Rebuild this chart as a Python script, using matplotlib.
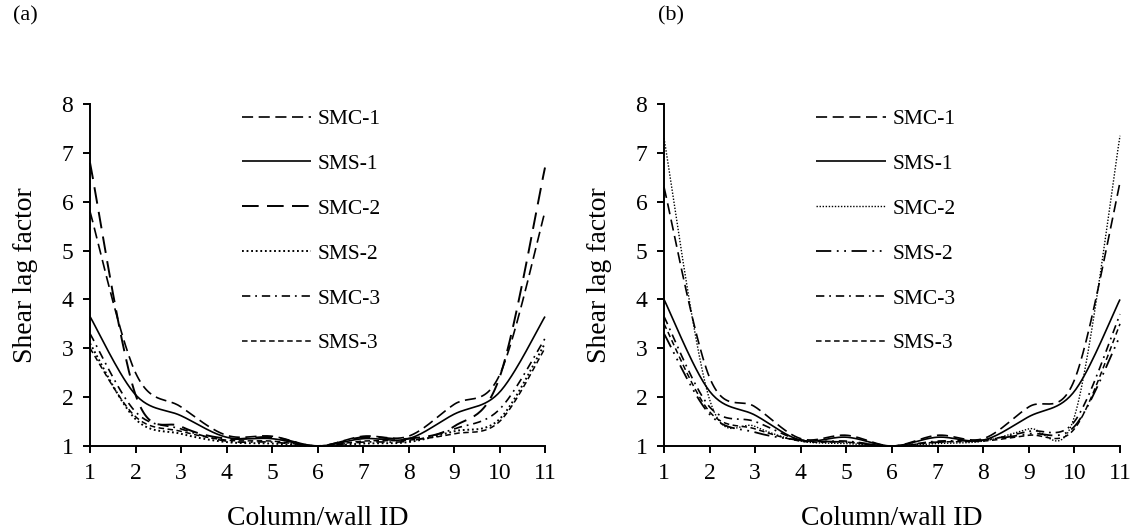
"""
Shear lag factor along the column/wall line, panels (a) and (b).
Excel-style smoothed curves (Catmull-Rom through the data points).
"""

import matplotlib
matplotlib.use("Agg")
import matplotlib.pyplot as plt
import numpy as np

plt.rcParams["font.family"] = ["Liberation Serif", "DejaVu Serif"]
plt.rcParams["lines.scale_dashes"] = False

# --- data --------------------------------------------------------------
COLUMN_ID = [1, 2, 3, 4, 5, 6, 7, 8, 9, 10, 11]
LABELS = ["SMC-1", "SMS-1", "SMC-2", "SMS-2", "SMC-3", "SMS-3"]

# panel (a)
A_SMC1 = [5.8, 2.5, 1.8, 1.22, 1.2, 1.0, 1.2, 1.2, 1.85, 2.45, 5.8]
A_SMS1 = [3.65, 2.05, 1.62, 1.18, 1.15, 1.0, 1.15, 1.15, 1.65, 2.1, 3.65]
A_SMC2 = [6.8, 2.05, 1.4, 1.15, 1.18, 1.0, 1.18, 1.15, 1.4, 2.4, 6.7]
A_SMS2 = [3.1, 1.55, 1.25, 1.08, 1.05, 1.0, 1.05, 1.08, 1.3, 1.55, 3.1]
A_SMC3 = [3.3, 1.7, 1.35, 1.1, 1.08, 1.0, 1.08, 1.1, 1.35, 1.75, 3.2]
A_SMS3 = [3.0, 1.6, 1.3, 1.12, 1.1, 1.0, 1.1, 1.12, 1.25, 1.5, 3.0]

# panel (b)
B_SMC1 = [6.3, 2.4, 1.8, 1.15, 1.22, 1.0, 1.22, 1.15, 1.8, 2.35, 6.4]
B_SMS1 = [4.0, 2.12, 1.63, 1.12, 1.18, 1.0, 1.18, 1.12, 1.6, 2.12, 4.0]
B_SMC2 = [7.3, 1.95, 1.4, 1.1, 1.05, 1.0, 1.05, 1.1, 1.35, 1.6, 7.35]
B_SMS2 = [3.3, 1.65, 1.28, 1.12, 1.08, 1.0, 1.08, 1.12, 1.25, 1.4, 3.25]
B_SMC3 = [3.65, 1.8, 1.5, 1.12, 1.1, 1.0, 1.1, 1.12, 1.3, 1.5, 3.7]
B_SMS3 = [3.5, 1.7, 1.35, 1.1, 1.08, 1.0, 1.08, 1.1, 1.22, 1.35, 3.5]

# --- line styles (dash lengths in points) ------------------------------
STYLES_A = [
    dict(ls=(0, (8, 4)), lw=1.2),
    dict(ls="-", lw=1.2),
    dict(ls=(0, (12, 6)), lw=1.4),
    dict(ls=(0, (1.3, 2.0)), lw=1.4),
    dict(ls=(0, (6, 3.5, 1.3, 3.5)), lw=1.2),
    dict(ls=(0, (4, 2.5)), lw=1.1),
]
STYLES_B = [
    dict(ls=(0, (8, 4)), lw=1.2),
    dict(ls="-", lw=1.2),
    dict(ls=(0, (1.0, 1.2)), lw=1.0),
    dict(ls=(0, (11, 4, 1.3, 4, 1.3, 4)), lw=1.3),
    dict(ls=(0, (6, 3.5, 1.3, 3.5)), lw=1.2),
    dict(ls=(0, (4, 2.5)), lw=1.1),
]


def smooth(x, y, n=30):
    """Bezier curve through the points like Excel's smoothed line."""
    p = np.column_stack([x, y]).astype(float)
    xs, ys = [], []
    t = np.linspace(0, 1, n)[:, None]
    for i in range(len(p) - 1):
        p0 = p[max(i - 1, 0)]
        p1, p2 = p[i], p[i + 1]
        p3 = p[min(i + 2, len(p) - 1)]
        c1 = p1 + (p2 - p0) / 6
        c2 = p2 - (p3 - p1) / 6
        b = ((1 - t) ** 3) * p1 + 3 * ((1 - t) ** 2) * t * c1 \
            + 3 * (1 - t) * t ** 2 * c2 + t ** 3 * p2
        xs.append(b[:, 0])
        ys.append(b[:, 1])
    return np.concatenate(xs), np.concatenate(ys)


def draw_panel(ax, series, styles):
    for vals, lab, st in zip(series, LABELS, styles):
        sx, sy = smooth(COLUMN_ID, vals)
        ax.plot(sx, sy, color="black", label=lab, solid_capstyle="butt",
                dash_capstyle="butt", **st)
    ax.set_xlim(1, 11)
    ax.set_ylim(1, 8)
    ax.set_xticks(COLUMN_ID)
    ax.set_yticks(range(1, 9))
    for s in ("top", "right"):
        ax.spines[s].set_visible(False)
    for s in ("left", "bottom"):
        ax.spines[s].set_linewidth(1.4)
    ax.tick_params(direction="out", length=5, width=1.4, labelsize=17, pad=7)
    ax.set_xlabel("Column/wall ID", fontsize=20, labelpad=16)
    ax.set_ylabel("Shear lag factor", fontsize=20, labelpad=17)
    ax.legend(loc="upper left", bbox_to_anchor=(0.333, 0.985), frameon=False,
              fontsize=15.5, handlelength=3.25, handletextpad=0.3,
              labelspacing=1.15, borderpad=0, borderaxespad=0)
    for ln in ax.lines:
        ln.set_clip_on(False)


fig = plt.figure(figsize=(11.36, 5.31), dpi=100)
ax_a = fig.add_axes([90 / 1136, 85 / 531, 455 / 1136, 342 / 531])
ax_b = fig.add_axes([664 / 1136, 85 / 531, 456 / 1136, 342 / 531])

draw_panel(ax_a, [A_SMC1, A_SMS1, A_SMC2, A_SMS2, A_SMC3, A_SMS3], STYLES_A)
draw_panel(ax_b, [B_SMC1, B_SMS1, B_SMC2, B_SMS2, B_SMC3, B_SMS3], STYLES_B)

fig.text(13 / 1136, 1 - 16 / 531, "(a)", fontsize=16, va="center")
fig.text(658 / 1136, 1 - 16 / 531, "(b)", fontsize=16, va="center")

fig.savefig("out.png", dpi=100)
